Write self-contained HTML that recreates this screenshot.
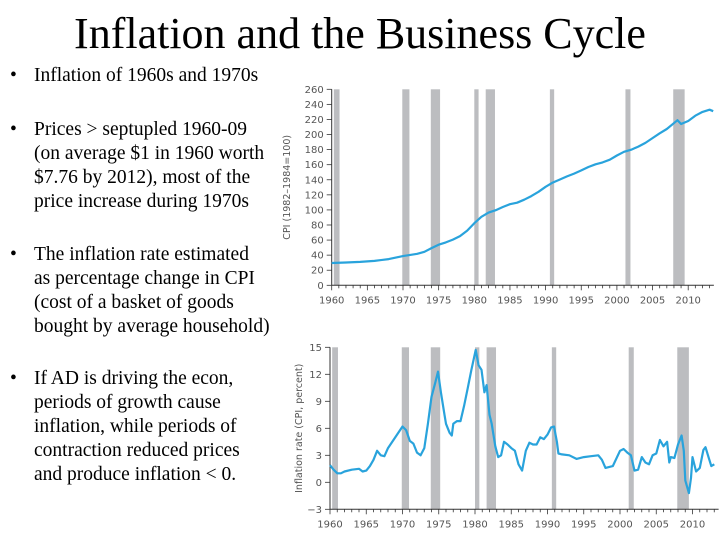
<!DOCTYPE html>
<html><head><meta charset="utf-8"><style>
body{margin:0;width:720px;height:540px;background:#fff;overflow:hidden;position:relative;font-family:"Liberation Serif",serif;}
.t{position:absolute;font-size:19.5px;line-height:24px;color:#000;white-space:nowrap;left:10px}
.t span{display:inline-block;width:24px}
.t div{padding-left:24px}
h1{position:absolute;top:9px;left:0;width:720px;text-align:center;margin:0;font-weight:normal;font-size:44px;line-height:50px}
svg{position:absolute;left:0;top:0}
</style></head><body>
<h1>Inflation and the Business Cycle</h1>
<div class="t" style="top:64px"><span>•</span>Inflation of 1960s and 1970s</div>
<div class="t" style="top:118px"><span>•</span>Prices &gt; septupled 1960-09<div>(on average $1 in 1960 worth</div><div>$7.76 by 2012), most of the</div><div>price increase during 1970s</div></div>
<div class="t" style="top:243px"><span>•</span>The inflation rate estimated<div>as percentage change in CPI</div><div>(cost of a basket of goods</div><div>bought by average household)</div></div>
<div class="t" style="top:367px"><span>•</span>If AD is driving the econ,<div>periods of growth cause</div><div>inflation, while periods of</div><div>contraction reduced prices</div><div>and produce inflation &lt; 0.</div></div>
<svg id="s" width="720" height="540"></svg>
<script>
const recessions=[[1960.3,1961.1],[1969.9,1970.9],[1973.9,1975.2],[1980.0,1980.6],[1981.6,1982.9],[1990.6,1991.2],[2001.2,2001.9],[2007.9,2009.5]];
const cpiYears=[1960,1962,1964,1966,1968,1970,1972,1973,1974,1975,1976,1977,1978,1979,1980,1981,1982,1983,1984,1985,1986,1987,1988,1989,1990,1991,1992,1993,1994,1995,1996,1997,1998,1999,2000,2001,2002,2003,2004,2005,2006,2007,2008.5,2009,2010,2011,2012,2013,2013.5];
const cpiValues=[29.6,30.2,31,32.4,34.8,38.8,41.8,44.4,49.3,53.8,56.9,60.6,65.2,72.6,82.4,90.9,96.5,99.6,103.9,107.6,109.6,113.6,118.3,124,130.7,136.2,140.3,144.5,148.2,152.4,156.9,160.5,163,166.6,172.2,177.1,179.9,184,188.9,195.3,201.6,207.3,219,214,218,225,230,233,231];
const infYears=[1960,1960.5,1961,1961.5,1962,1963,1964,1964.5,1965,1965.5,1966,1966.5,1967,1967.5,1968,1969,1970,1970.5,1971,1971.5,1972,1972.5,1973,1973.5,1974,1974.5,1974.9,1975.3,1975.8,1976,1976.5,1976.8,1977,1977.5,1978,1978.5,1979,1979.5,1980.1,1980.5,1980.9,1981.3,1981.6,1982,1982.3,1982.8,1983.2,1983.6,1984,1984.5,1985,1985.5,1986,1986.5,1987,1987.5,1988,1988.5,1989,1989.5,1990,1990.5,1990.9,1991.3,1991.5,1992,1993,1994,1995,1996,1997,1997.5,1998,1999,2000,2000.5,2001,2001.5,2002,2002.5,2003,2003.5,2004,2004.5,2005,2005.5,2006,2006.5,2006.8,2007,2007.5,2008,2008.5,2008.8,2009,2009.5,2009.8,2010,2010.5,2011,2011.5,2011.8,2012.2,2012.6,2013];
const infValues=[1.9,1.4,1.0,1.0,1.2,1.4,1.5,1.2,1.3,1.8,2.5,3.5,3.0,2.9,3.8,5.0,6.2,5.8,4.6,4.3,3.3,3.0,3.8,6.5,9.5,11.0,12.3,10.0,7.5,6.5,5.5,5.2,6.5,6.8,6.8,8.5,10.5,12.5,14.7,13.0,12.5,10.0,10.8,7.5,6.5,4.0,2.8,3.0,4.5,4.2,3.8,3.5,2.0,1.3,3.5,4.4,4.2,4.2,5.0,4.8,5.3,6.1,6.2,4.5,3.2,3.1,3.0,2.6,2.8,2.9,3.0,2.5,1.6,1.8,3.5,3.7,3.3,3.0,1.3,1.4,2.8,2.2,2.0,3.0,3.2,4.7,4.0,4.5,2.2,2.8,2.7,4.2,5.2,3.5,0.2,-1.2,0.5,2.8,1.2,1.6,3.6,3.9,2.8,1.8,2.0];
const yearTicks=[1960,1965,1970,1975,1980,1985,1990,1995,2000,2005,2010];
const cpiTicks=[0,20,40,60,80,100,120,140,160,180,200,220,240,260];
const infTicks=[-3,0,3,6,9,12,15];
const NS="http://www.w3.org/2000/svg",svg=document.getElementById('s');
function mk(t,a,p){const e=document.createElementNS(NS,t);for(const k in a)e.setAttribute(k,a[k]);(p||svg).appendChild(e);return e;}
function chart(cfg){
 const g=mk('g',{});
 
 
 const X=y=>cfg.x0+(y-1960)*cfg.pxy, Y=v=>cfg.y0-(v-cfg.vmin)*cfg.pxv;
 recessions.forEach(r=>{const e=mk('rect',{x:X(r[0]),y:Y(cfg.vmax),width:X(r[1])-X(r[0]),height:Y(cfg.vmin)-Y(cfg.vmax),fill:'#bcbdc0'},g);
  
  });
 mk('line',{x1:X(1960),x2:X(1960),y1:Y(cfg.vmax),y2:Y(cfg.vmin),stroke:'#333','stroke-width':1},g);
 mk('line',{x1:X(1960),x2:X(2013.6),y1:Y(cfg.vmin),y2:Y(cfg.vmin),stroke:'#333','stroke-width':1},g);
 for(let y=1960;y<=2013;y++)mk('line',{x1:X(y),x2:X(y),y1:Y(cfg.vmin),y2:Y(cfg.vmin)+(y%5?3:5),stroke:'#333','stroke-width':0.8},g);
 yearTicks.forEach(y=>{const t=mk('text',{x:X(y),y:Y(cfg.vmin)+18,'text-anchor':'middle','font-size':10,fill:'#555','font-family':'DejaVu Sans, sans-serif'},g);t.textContent=y;
  
  });
 cfg.ticks.forEach(v=>{mk('line',{x1:X(1960)-5,x2:X(1960),y1:Y(v),y2:Y(v),stroke:'#333','stroke-width':0.8},g);
  const t=mk('text',{x:X(1960)-8,y:Y(v)+3.5,'text-anchor':'end','font-size':10,fill:'#555','font-family':'DejaVu Sans, sans-serif'},g);t.textContent=cfg.neg&&v<0?'−'+(-v):v;
  
  });
 const yt=mk('text',{transform:`translate(${cfg.lx},${(Y(cfg.vmax)+Y(cfg.vmin))/2}) rotate(-90)`,'text-anchor':'middle','font-size':9.5,fill:'#555','font-family':'DejaVu Sans, sans-serif'},g);yt.textContent=cfg.label;
 
 
 const p=mk('path',{d:cfg.xs.map((y,i)=>(i?'L':'M')+X(y).toFixed(1)+','+Y(cfg.vs[i]).toFixed(1)).join(''),fill:'none',stroke:'#29a3dc','stroke-width':2.2,'stroke-linejoin':'round'},g);
 
 
}
chart({name:'cpi-chart',x0:331.7,pxy:7.13,y0:285.3,vmin:0,vmax:260,pxv:196/260,ticks:cpiTicks,label:'CPI (1982–1984=100)',lx:290,xs:cpiYears,vs:cpiValues,lineName:'cpi-line'});
chart({name:'inflation-chart',x0:330,pxy:7.25,y0:509.3,vmin:-3,vmax:15,pxv:9,ticks:infTicks,neg:true,label:'Inflation rate (CPI, percent)',lx:302,xs:infYears,vs:infValues,lineName:'inflation-line'});
</script>
</body></html>
